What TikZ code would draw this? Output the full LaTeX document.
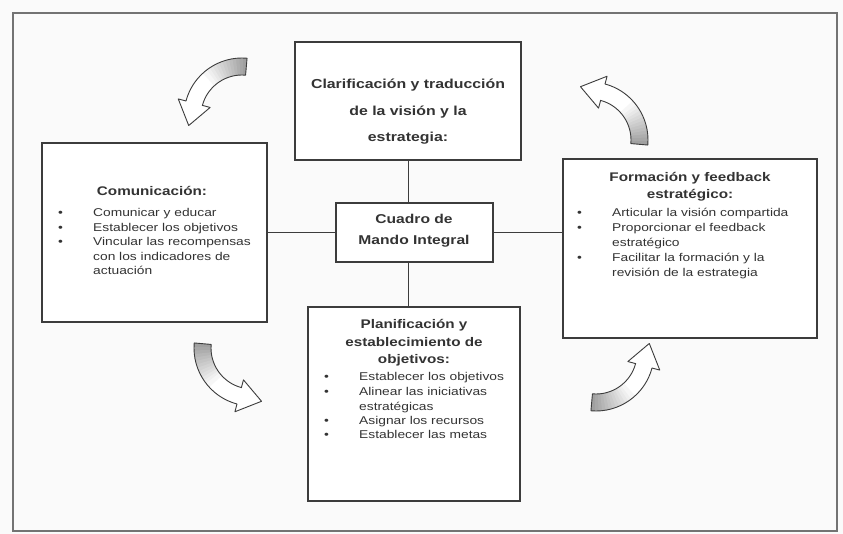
\documentclass[tikz,border=0pt]{standalone}
\usepackage{fontspec}
\setmainfont{Liberation Sans}[FakeStretch=1.22]
\usetikzlibrary{calc}
\definecolor{ink}{HTML}{333333}
\definecolor{edge}{HTML}{3C3C3C}
\definecolor{paper}{HTML}{FAFAFA}
\tikzset{
  box/.style={draw=edge, line width=1.1pt, fill=white, inner sep=0pt},
  conn/.style={draw=edge, line width=1pt},
  txt/.style={inner sep=0pt, text=ink},
  frame/.style={draw=black!55, line width=1.6pt},
  arrowshape/.style={insert path={(-5:58pt) arc[start angle=-5,end angle=75,radius=58pt] -- (75:66pt) -- ($(75:49pt)+(165:23pt)$) -- (75:33pt) -- (75:41pt) arc[start angle=75,end angle=-5,radius=41pt] -- cycle}},
}
\newcommand{\itm}[1]{\par\noindent\hangindent=35pt\hangafter=1\makebox[35pt][l]{\textbullet}#1}
\newcommand{\ttl}[4]{\parbox[t]{#1}{\centering\fontsize{#2}{#3}\selectfont\bfseries #4}}
\newcommand{\lst}[3]{\parbox[t]{#1}{\raggedright\fontsize{11.3}{#2}\selectfont #3}}
\newcommand{\curvedarrow}[3]{%
  \begin{scope}[shift={(#1,-#2)}, rotate=#3]
    \path[fill=white, arrowshape];
    \begin{scope}
      \path[clip, arrowshape];
      \foreach \i in {0,...,13} {
        \pgfmathsetmacro{\shadeval}{40-2.8*\i}
        \fill[black!\shadeval] (0,0) -- (\i*3.5-8:80pt) arc[start angle=\i*3.5-8, end angle=\i*3.5-3, radius=80pt] -- cycle;
      }
    \end{scope}
    \path[draw=edge, line width=0.9pt, line join=round, arrowshape];
  \end{scope}}
\begin{document}
\begin{tikzpicture}[x=1pt, y=1pt]
  \fill[paper] (0,0) rectangle (843,-534);
  \useasboundingbox (0,0) rectangle (843,-534);
  \draw[frame] (13,-13) rectangle (837,-531);

  % boxes
  \node[box, minimum width=226pt, minimum height=118pt] (top) at (408,-101) {};
  \node[box, minimum width=225pt, minimum height=179pt] (lbox) at (154.5,-232.5) {};
  \node[box, minimum width=254pt, minimum height=179pt] (rbox) at (690,-248.5) {};
  \node[box, minimum width=212pt, minimum height=194pt] (bot) at (414,-404) {};
  \node[box, minimum width=157pt, minimum height=59pt] (cbox) at (414.5,-232.5) {};

  % connectors
  \draw[conn] (top.south) -- (top.south |- cbox.north);
  \draw[conn] (cbox.south -| top.south) -- (top.south |- bot.north);
  \draw[conn] (lbox.east) -- (cbox.west);
  \draw[conn] (cbox.east) -- (cbox.east -| rbox.west);

  % texts
  \node[txt, anchor=base] (ttop) at (408,-89) {\ttl{220pt}{13}{26.5}{Clarificación y traducción\\de la visión y la\\estrategia:}};
  \node[txt, anchor=base] (tc) at (414,-224) {\ttl{150pt}{12.8}{20.5}{Cuadro de\\Mando Integral}};
  \node[txt, anchor=base] (tleft) at (152,-196) {\ttl{200pt}{12.5}{15}{Comunicación:}};
  \node[txt, anchor=base west] (lleft) at (58,-217) {\lst{215pt}{14.5}{\itm{Comunicar y educar}\itm{Establecer los objetivos}\itm{Vincular las recompensas\newline con los indicadores de\newline actuación}}};
  \node[txt, anchor=base] (tright) at (690,-182) {\ttl{240pt}{12.5}{17}{Formación y feedback\\estratégico:}};
  \node[txt, anchor=base west] (lright) at (577,-217) {\lst{235pt}{15}{\itm{Articular la visión compartida}\itm{Proporcionar el feedback\newline estratégico}\itm{Facilitar la formación y la\newline revisión de la estrategia}}};
  \node[txt, anchor=base] (tbot) at (414,-329) {\ttl{210pt}{12.5}{17.5}{Planificación y\\establecimiento de\\objetivos:}};
  \node[txt, anchor=base west] (lbot) at (324,-381) {\lst{200pt}{14.5}{\itm{Establecer los objetivos}\itm{Alinear las iniciativas\newline estratégicas}\itm{Asignar los recursos}\itm{Establecer las metas}}};

  % curved arrows
  \curvedarrow{590}{140}{0}
  \curvedarrow{242}{116}{90}
  \curvedarrow{252}{348}{180}
  \curvedarrow{596}{353}{270}
\end{tikzpicture}
\end{document}
